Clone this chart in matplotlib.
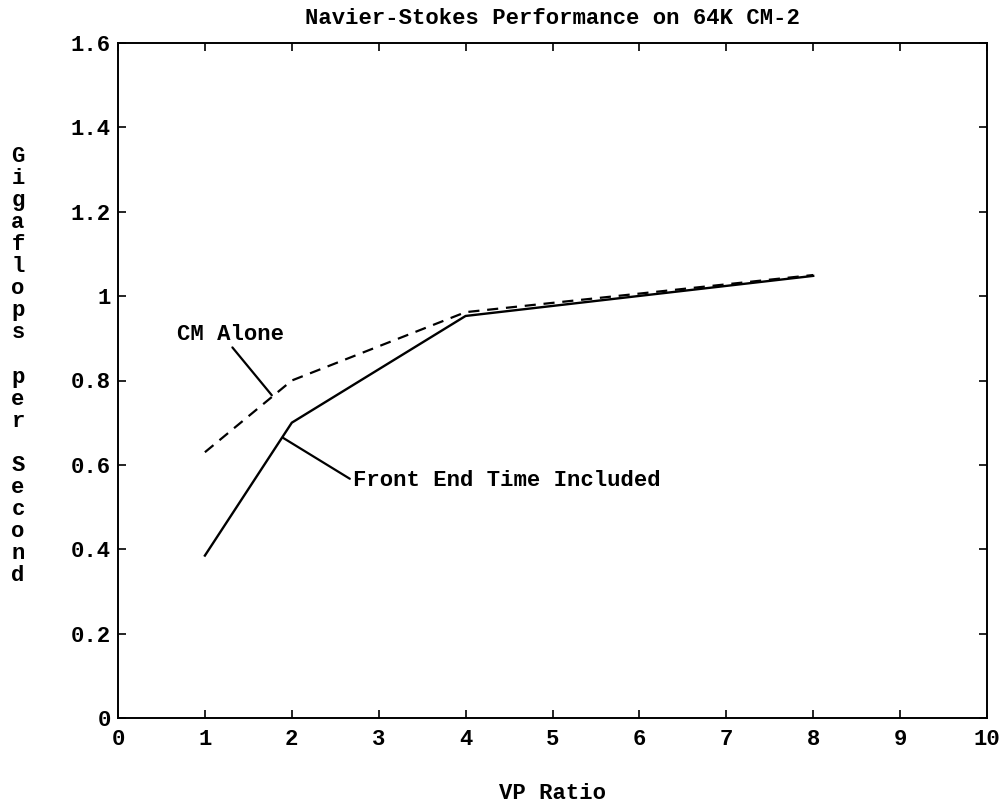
import numpy as np
import matplotlib.pyplot as plt

params = {"font.family" : "Liberation Mono",
          "font.weight" : "bold",
          "axes.titleweight" : "bold",
          "axes.labelweight" : "bold",
          "font.size" : 16,
          "xtick.direction" : "in",
          "ytick.direction" : "in",
          "axes.linewidth" : 1.4}
plt.rcParams.update(params)

## data
vp_ratio = [1, 2, 4, 8]
gf_cm_alone = [0.63, 0.80, 0.962, 1.05]
gf_front_end = [0.385, 0.70, 0.953, 1.048]

xticks = list(range(0, 11))
yticks = [0, 0.2, 0.4, 0.6, 0.8, 1, 1.2, 1.4, 1.6]
ytick_labels = ['0', '0.2', '0.4', '0.6', '0.8', '1', '1.2', '1.4', '1.6']

fig = plt.figure(figsize=(10.05, 8.07), dpi=100)
ax = fig.add_axes([118/1005, 1-718/807, (987-118)/1005, (718-43)/807])

ax.plot(vp_ratio, gf_cm_alone, 'k--', lw=1.6, dashes=(5, 3.5))
ax.plot(vp_ratio, gf_front_end, 'k-', lw=1.7)

ax.set_xlim(0, 10)
ax.set_ylim(0, 1.6)
ax.set_xticks(xticks)
ax.set_yticks(yticks)
ax.set_yticklabels(ytick_labels)
ax.tick_params(top=True, right=True, length=6, width=1.2, labelsize=16)
ax.tick_params(axis='x', pad=8)
ax.tick_params(axis='y', pad=5)

## annotations with pointer lines
ax.annotate('CM Alone', xy=(1.77, 0.765), xytext=(1.29, 0.885),
            ha='center', va='bottom', fontsize=16,
            arrowprops=dict(arrowstyle='-', color='k', lw=1.6,
                            shrinkA=0, shrinkB=0, relpos=(0.5, 0)))
ax.annotate('Front End Time Included', xy=(1.9, 0.664), xytext=(2.7, 0.563),
            ha='left', va='center', fontsize=16,
            arrowprops=dict(arrowstyle='-', color='k', lw=1.6,
                            shrinkA=0, shrinkB=0, relpos=(0, 0.5)))

ax.set_title('Navier-Stokes Performance on 64K CM-2', fontsize=16, pad=14)
ax.set_xlabel('VP Ratio', fontsize=16, labelpad=24)

## stacked vertical y label
ylab = 'Gigaflops per Second'
fig.text(18/1005, 1-366/807, '\n'.join(ylab), ha='center', va='center',
         fontsize=16, linespacing=1.065)

plt.savefig('out.png', dpi=100)
